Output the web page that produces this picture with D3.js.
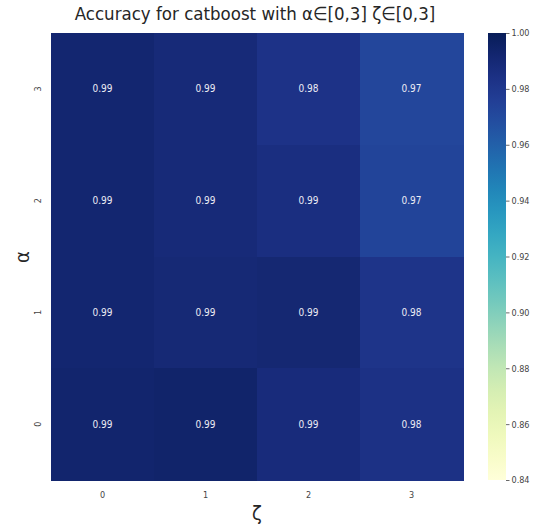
<!DOCTYPE html>
<html>
<head>
<meta charset="utf-8">
<script src="https://cdn.jsdelivr.net/npm/d3@7"></script>
<style>
  body { margin: 0; background: #fff; }
  text { font-family: "DejaVu Sans Condensed", "DejaVu Sans", sans-serif; font-stretch: condensed; }
</style>
</head>
<body>
<svg id="chart" width="537" height="529"></svg>
<script>
var zetas = [0, 1, 2, 3];
var alphas = [3, 2, 1, 0];
// accuracy[alpha row][zeta col], top row is alpha = 3
var acc3 = [0.992, 0.989, 0.983, 0.972];
var acc2 = [0.992, 0.989, 0.986, 0.973];
var acc1 = [0.992, 0.990, 0.991, 0.982];
var acc0 = [0.993, 0.994, 0.988, 0.984];
var cbTicks = [0.84, 0.86, 0.88, 0.90, 0.92, 0.94, 0.96, 0.98, 1.00];

var rows = [acc3, acc2, acc1, acc0];
var cells = [];
rows.forEach(function(r, i) {
  r.forEach(function(v, j) {
    cells.push({ alpha: alphas[i], zeta: zetas[j], v: v });
  });
});

var svg = d3.select("#chart");
var mLeft = 51, mRight = 463, mTop = 33, mBottom = 480;

var x = d3.scaleBand().domain(zetas).range([mLeft, mRight]);
var y = d3.scaleBand().domain(alphas).range([mTop, mBottom]);
var color = d3.scaleSequential(d3.interpolateYlGnBu).domain([0.84, 1.00]);

svg.selectAll("rect.cell").data(cells).enter().append("rect")
  .attr("class", "cell")
  .attr("x", function(d) { return x(d.zeta); })
  .attr("y", function(d) { return y(d.alpha); })
  .attr("width", x.bandwidth() + 0.5)
  .attr("height", y.bandwidth() + 0.5)
  .attr("shape-rendering", "crispEdges")
  .attr("fill", function(d) { return color(d.v); });

svg.selectAll("text.ann").data(cells).enter().append("text")
  .attr("class", "ann")
  .attr("x", function(d) { return x(d.zeta) + x.bandwidth() / 2; })
  .attr("y", function(d) { return y(d.alpha) + y.bandwidth() / 2; })
  .attr("dy", "0.35em")
  .attr("text-anchor", "middle")
  .attr("font-size", 10)
  .attr("fill", "#ececf4")
  .text(function(d) { return d.v.toFixed(2); });

// x axis
var xAxis = svg.append("g").attr("transform", "translate(0," + mBottom + ")")
  .call(d3.axisBottom(x).tickSize(0).tickPadding(12));
xAxis.select(".domain").remove();
xAxis.selectAll("text").attr("font-size", 9).attr("fill", "#444");

// y axis, tick labels rotated
var yAxis = svg.append("g").attr("transform", "translate(" + mLeft + ",0)")
  .call(d3.axisLeft(y).tickSize(0).tickPadding(0));
yAxis.select(".domain").remove();
yAxis.selectAll("text")
  .attr("font-size", 9).attr("fill", "#444")
  .attr("text-anchor", "middle")
  .attr("x", 0).attr("y", 0).attr("dy", "0.32em")
  .attr("transform", "translate(-13,0) rotate(-90)");

// labels
svg.append("text").attr("x", 255).attr("y", 20).attr("text-anchor", "middle")
  .attr("font-size", 18.5).attr("fill", "#262626")
  .text("Accuracy for catboost with α∈[0,3] ζ∈[0,3]");
svg.append("text").attr("x", 257).attr("y", 520).attr("text-anchor", "middle")
  .attr("font-size", 20).attr("fill", "#262626").text("ζ");
svg.append("text").attr("transform", "translate(29,257) rotate(-90)").attr("text-anchor", "middle")
  .attr("font-size", 20).attr("fill", "#262626").text("α");

// colorbar
var cbX = 488, cbW = 18;
var cy = d3.scaleLinear().domain([0.84, 1.00]).range([mBottom, mTop]);
var defs = svg.append("defs");
var grad = defs.append("linearGradient").attr("id", "cbg")
  .attr("x1", 0).attr("y1", 1).attr("x2", 0).attr("y2", 0);
d3.range(0, 1.0001, 0.05).forEach(function(t) {
  grad.append("stop").attr("offset", t).attr("stop-color", d3.interpolateYlGnBu(t));
});
svg.append("rect").attr("x", cbX).attr("y", mTop).attr("width", cbW).attr("height", mBottom - mTop)
  .attr("fill", "url(#cbg)");
var cAxis = svg.append("g").attr("transform", "translate(" + (cbX + cbW) + ",0)")
  .call(d3.axisRight(cy).tickValues(cbTicks).tickFormat(d3.format(".2f")).tickSize(3.5).tickPadding(2));
cAxis.select(".domain").remove();
cAxis.selectAll("line").attr("stroke", "#444").attr("stroke-width", 0.8);
cAxis.selectAll("text").attr("font-size", 9).attr("fill", "#444");
</script>
</body>
</html>
